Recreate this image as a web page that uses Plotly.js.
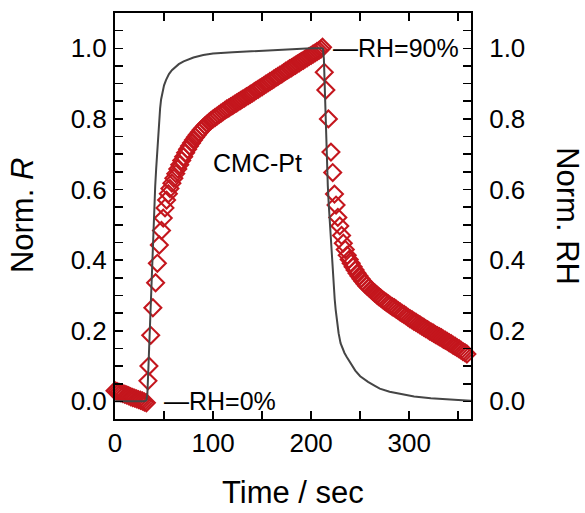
<!DOCTYPE html>
<html>
<head>
<meta charset="utf-8">
<script src="https://cdn.plot.ly/plotly-3.0.1.min.js"></script>
<style>html,body{margin:0;padding:0;background:#fff;}#chart{width:585px;height:513px;}</style>
</head>
<body>
<div id="chart"></div>
<script>
// Normalized resistance R (CMC-Pt), time in seconds
const timeR = [0,2,4,6,8,10,12,14,16,18,20,22,24,26,28,30,32,
  33.6,34.6,36.4,38.6,41.4,43.2,45.2,47.4,49.2,51.0,52.6,54.4,56.0,
  58,60,62,64,66,68,70,72,74,76,78,80,82,84,86,88,90,92,94,96,98,100,
  102,104,106,108,110,112,114,116,118,120,122,124,126,128,130,132,134,136,138,140,
  142,144,146,148,150,152,154,156,158,160,162,164,166,168,170,172,174,176,178,180,
  182,184,186,188,190,192,194,196,198,200,202,204,206,208,210,211.6,
  213.4,215.0,217.6,220.2,222.0,223.8,225.4,227.2,229.2,231.0,232.8,234.8,236.8,238.8,
  240.8,242.8,244.8,246.8,248.8,250.8,252.8,254.8,256.8,258.8,260.8,262.8,264.8,266.8,
  268.8,270.8,272.8,274.8,276.8,278.8,280.8,282.8,284.8,286.8,288.8,290.8,292.8,294.8,
  296.8,298.8,300.8,302.8,304.8,306.8,308.8,310.8,312.8,314.8,316.8,318.8,320.8,322.8,
  324.8,326.8,328.8,330.8,332.8,334.8,336.8,338.8,340.8,342.8,344.8,346.8,348.8,350.8,
  352.8,354.8,356.8,358.8];
const normR = [0.030,0.028,0.026,0.024,0.022,0.020,0.018,0.016,0.013,0.011,0.009,0.007,0.005,0.003,0.001,-0.002,-0.004,
  0.058,0.100,0.187,0.265,0.336,0.391,0.443,0.484,0.519,0.548,0.570,0.588,0.603,
  0.618,0.632,0.645,0.658,0.670,0.682,0.693,0.704,0.714,0.723,0.732,0.740,0.748,0.755,0.762,0.769,0.775,0.781,0.786,0.791,0.796,0.800,
  0.804,0.808,0.812,0.816,0.820,0.824,0.828,0.831,0.835,0.838,0.842,0.845,0.849,0.852,0.856,0.859,0.863,0.866,0.870,0.873,
  0.877,0.881,0.884,0.888,0.891,0.895,0.899,0.902,0.906,0.909,0.913,0.917,0.920,0.924,0.927,0.931,0.935,0.938,0.942,0.945,
  0.949,0.952,0.956,0.959,0.963,0.966,0.970,0.973,0.977,0.980,0.984,0.987,0.991,0.994,0.998,1.003,
  0.932,0.882,0.800,0.706,0.648,0.587,0.556,0.521,0.497,0.470,0.448,0.430,0.414,0.402,
  0.391,0.381,0.372,0.363,0.355,0.347,0.340,0.333,0.327,0.322,0.317,0.312,0.307,0.302,
  0.297,0.293,0.288,0.284,0.280,0.276,0.272,0.268,0.265,0.261,0.257,0.253,0.249,0.246,
  0.242,0.238,0.234,0.231,0.227,0.224,0.220,0.217,0.213,0.210,0.206,0.203,0.199,0.196,
  0.193,0.189,0.186,0.183,0.180,0.176,0.173,0.170,0.166,0.163,0.159,0.156,0.152,0.149,
  0.145,0.141,0.138,0.134];

// Normalized relative humidity
const timeRH = [0,10,20,30,32,33,34,35,36,37,38,39,40,41,42,43,44,45,46,47,48,50,52,55,58,61,65,70,75,80,90,100,120,140,160,180,200,211,
  212,213,214,215,216,217,218,219,220,221,222,223,224,225,226,227,228,230,232,234,236,240,245,250,258,265,270,280,292,305,322,335,350,363];
const normRH = [0,0,0,0,0.003,0.02,0.09,0.17,0.25,0.33,0.41,0.48,0.55,0.61,0.66,0.71,0.76,0.80,0.83,0.855,0.872,0.895,0.91,0.927,0.938,0.946,0.955,0.963,0.969,0.974,0.981,0.985,0.989,0.992,0.995,0.998,1.0,1.0,
  0.999,0.97,0.86,0.76,0.68,0.61,0.555,0.505,0.455,0.41,0.365,0.325,0.29,0.26,0.235,0.212,0.193,0.165,0.148,0.137,0.127,0.108,0.087,0.071,0.055,0.044,0.036,0.027,0.02,0.014,0.009,0.006,0.004,0.002];

const xTickVals = [0,50,100,150,200,250,300,350];
const xTickText = ['0','','100','','200','','300',''];
const yTickVals = [0,0.05,0.1,0.15,0.2,0.25,0.3,0.35,0.4,0.45,0.5,0.55,0.6,0.65,0.7,0.75,0.8,0.85,0.9,0.95,1.0,1.05];
const yTickText = ['0.0','','','','0.2','','','','0.4','','','','0.6','','','','0.8','','','','1.0',''];
</script>
<script>
const font = 'Liberation Sans, Arial, Helvetica, sans-serif';
const red = '#c4161d';
const traces = [
  {x: timeRH, y: normRH, yaxis: 'y2', type: 'scatter', mode: 'lines',
   line: {color: '#454545', width: 2}, cliponaxis: false, hoverinfo: 'skip'},
  {x: timeR, y: normR, type: 'scatter', mode: 'markers',
   marker: {symbol: 'diamond-open', size: 13, color: red, line: {color: red, width: 2.1}},
   cliponaxis: false}
];
const axisCommon = {
  showline: true, linecolor: '#000', linewidth: 2,
  ticks: 'inside', ticklen: 8, tickwidth: 1.6, tickcolor: '#000',
  showgrid: false, zeroline: false,
  tickfont: {family: font, size: 26, color: '#000'}
};
const layout = {
  width: 585, height: 513,
  margin: {l: 115, r: 114, t: 13, b: 94, pad: 0},
  paper_bgcolor: '#fff', plot_bgcolor: '#fff',
  showlegend: false,
  xaxis: Object.assign({}, axisCommon, {
    range: [0, 363], tickmode: 'array', tickvals: xTickVals, ticktext: xTickText,
    mirror: 'ticks', ticklabelstandoff: 0
  }),
  yaxis: Object.assign({}, axisCommon, {
    range: [-0.05, 1.1], tickmode: 'array', tickvals: yTickVals, ticktext: yTickText,
    ticklabelstandoff: 1
  }),
  yaxis2: Object.assign({}, axisCommon, {
    range: [-0.05, 1.1], tickmode: 'array', tickvals: yTickVals, ticktext: yTickText,
    overlaying: 'y', side: 'right', ticklabelstandoff: 11
  }),
  annotations: [
    {xref: 'paper', yref: 'paper', x: 0.5, y: -0.182, xanchor: 'center', yanchor: 'middle',
     text: 'Time / sec', showarrow: false, font: {family: font, size: 31, color: '#000'}},
    {xref: 'paper', yref: 'paper', x: -0.261, y: 0.5, xanchor: 'center', yanchor: 'middle',
     text: 'Norm. <i>R</i>', textangle: -90, showarrow: false, font: {family: font, size: 31, color: '#000'}},
    {xref: 'paper', yref: 'paper', x: 1.272, y: 0.5, xanchor: 'center', yanchor: 'middle',
     text: 'Norm. RH', textangle: 90, showarrow: false, font: {family: font, size: 31, color: '#000'}},
    {xref: 'x', yref: 'y', x: 145.4, y: 0.675, xanchor: 'center', yanchor: 'middle',
     text: 'CMC-Pt', showarrow: false, font: {family: font, size: 25, color: '#000'}},
    {xref: 'x', yref: 'y', x: 220.4, y: 1.0, xanchor: 'left', yanchor: 'middle',
     text: '\u2014RH=90%', showarrow: false, font: {family: font, size: 25, color: '#000'}},
    {xref: 'x', yref: 'y', x: 48, y: 0.0, xanchor: 'left', yanchor: 'middle',
     text: '\u2014RH=0%', showarrow: false, font: {family: font, size: 25, color: '#000'}}
  ]
};
Plotly.newPlot('chart', traces, layout, {displayModeBar: false, staticPlot: true});
</script>
</body>
</html>
